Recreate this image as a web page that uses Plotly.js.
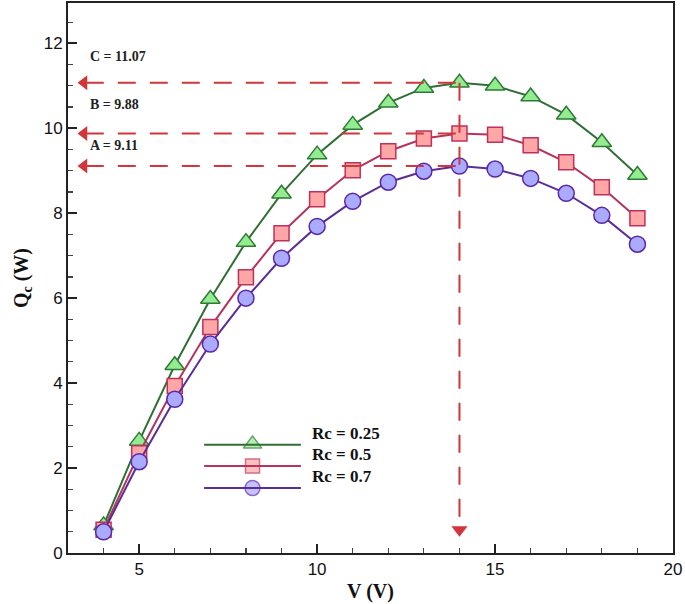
<!DOCTYPE html>
<html><head><meta charset="utf-8">
<script src="https://cdn.plot.ly/plotly-3.0.1.min.js"></script>
<style>body{margin:0;background:#fff}#c{width:685px;height:604px}</style>
</head><body><div id="c"></div>
<script>
var V = [4,5,6,7,8,9,10,11,12,13,14,15,16,17,18,19];
var Q_rc025 = [0.65,2.64,4.42,5.98,7.32,8.46,9.38,10.08,10.6,10.95,11.07,11.0,10.75,10.32,9.67,8.9];
var Q_rc05  = [0.55,2.35,3.93,5.32,6.49,7.53,8.33,9.01,9.46,9.76,9.88,9.85,9.6,9.2,8.61,7.88];
var Q_rc07  = [0.5,2.15,3.62,4.92,6.0,6.94,7.69,8.28,8.73,8.99,9.11,9.04,8.82,8.47,7.95,7.27];
var seriesNames = ['Rc = 0.25','Rc = 0.5','Rc = 0.7'];
var peakV = 14;
var peakLabels = ['C = 11.07','B = 9.88','A = 9.11'];
var peakValues = [11.07, 9.88, 9.11];
var xTicks = [5,10,15,20];
var yTicks = [0,2,4,6,8,10,12];

var lineCols = ['#2f6e34','#b5345e','#5b2d96'];
var fillCols = ['#93ec8f','#ffa6a6','#aaaaff'];
var edgeCols = ['#2f7a34','#c0305a','#5a28a8'];
var symbols = ['triangle-up','square','circle'];
var sizes = [17,15,16];
var legSizes = [16,14,15];
var data = [Q_rc025, Q_rc05, Q_rc07];
var red = '#d0363a';
var serif = 'Liberation Serif, Times New Roman, serif';

var traces = [];
data.forEach(function(d,i){
  traces.push({x:V,y:d,type:'scatter',mode:'lines+markers',name:seriesNames[i],
    line:{color:lineCols[i],width:2},
    marker:{symbol:symbols[i],size:sizes[i],color:fillCols[i],line:{color:edgeCols[i],width:1.5}},
    showlegend:false});
});
traces.push({x:peakValues.map(function(){return 3.45;}),y:peakValues,type:'scatter',mode:'markers',
  marker:{symbol:'triangle-left',size:13,color:red},showlegend:false,hoverinfo:'skip'});
traces.push({x:[peakV],y:[0.55],type:'scatter',mode:'markers',
  marker:{symbol:'triangle-down',size:14,color:red},showlegend:false,hoverinfo:'skip'});
traces.push({x:[0.5,0.5,0.5],y:[2,1,0],xaxis:'x2',yaxis:'y2',type:'scatter',mode:'markers',
  marker:{symbol:symbols,size:legSizes,color:fillCols,line:{color:edgeCols,width:1.5}},showlegend:false,hoverinfo:'skip'});

var shapes = [];
peakValues.forEach(function(v){
  shapes.push({type:'line',xref:'x',yref:'y',x0:3.5,x1:peakV,y0:v,y1:v,
    line:{color:red,width:2,dash:'18px,14px'}});
});
shapes.push({type:'line',xref:'x',yref:'y',x0:peakV,x1:peakV,y0:peakValues[0],y1:0.7,
  line:{color:red,width:2,dash:'18px,14px'}});
var legY = [0.197,0.158,0.118];
legY.forEach(function(yy,i){
  shapes.push({type:'line',xref:'paper',yref:'paper',x0:0.225,x1:0.385,y0:yy,y1:yy,
    line:{color:lineCols[i],width:2}});
});

var annotations = [];
var labY = [11.7, 10.55, 9.6];
peakLabels.forEach(function(t,i){
  annotations.push({x:3.55,y:labY[i],xref:'x',yref:'y',text:'<b>'+t+'</b>',showarrow:false,xanchor:'left',
    font:{family:serif,size:14,color:'#222'}});
});
seriesNames.forEach(function(t,i){
  annotations.push({x:0.4,y:legY[i],xref:'paper',yref:'paper',text:'<b>'+t+'</b>',showarrow:false,
    xanchor:'left',font:{family:serif,size:17,color:'#111'}});
});

var layout = {
  width:685,height:604,
  margin:{l:68,r:12,t:3,b:51},
  paper_bgcolor:'#fff',plot_bgcolor:'#fff',
  showlegend:false,
  xaxis:{range:[3,20],tickvals:xTicks,ticks:'inside',ticklen:9,tickwidth:2,tickcolor:'#222',
    minor:{dtick:1,ticks:'inside',ticklen:5,tickwidth:1.2,tickcolor:'#444'},
    showline:true,linecolor:'#222',linewidth:2,mirror:true,showgrid:false,zeroline:false,
    tickfont:{family:'Liberation Sans, Arial, sans-serif',size:17,color:'#111'},
    title:{text:'<b>V (V)</b>',font:{family:serif,size:20,color:'#111'},standoff:6}},
  yaxis:{range:[0,12.95],tickvals:yTicks,ticks:'inside',ticklen:9,tickwidth:2,tickcolor:'#222',
    minor:{dtick:0.5,ticks:'inside',ticklen:5,tickwidth:1.2,tickcolor:'#444'},
    showline:true,linecolor:'#222',linewidth:2,mirror:true,showgrid:false,zeroline:false,
    tickfont:{family:'Liberation Sans, Arial, sans-serif',size:17,color:'#111'},
    title:{text:'<b>Q<sub>c</sub> (W)</b>',font:{family:serif,size:20,color:'#111'},standoff:10}},
  xaxis2:{domain:[0.265,0.345],range:[0,1],visible:false,fixedrange:true,anchor:'y2'},
  yaxis2:{domain:[0.098,0.218],range:[-0.5,2.5],visible:false,fixedrange:true,anchor:'x2'},
  shapes:shapes,annotations:annotations
};
Plotly.newPlot('c',traces,layout,{displayModeBar:false,staticPlot:true});
</script></body></html>
